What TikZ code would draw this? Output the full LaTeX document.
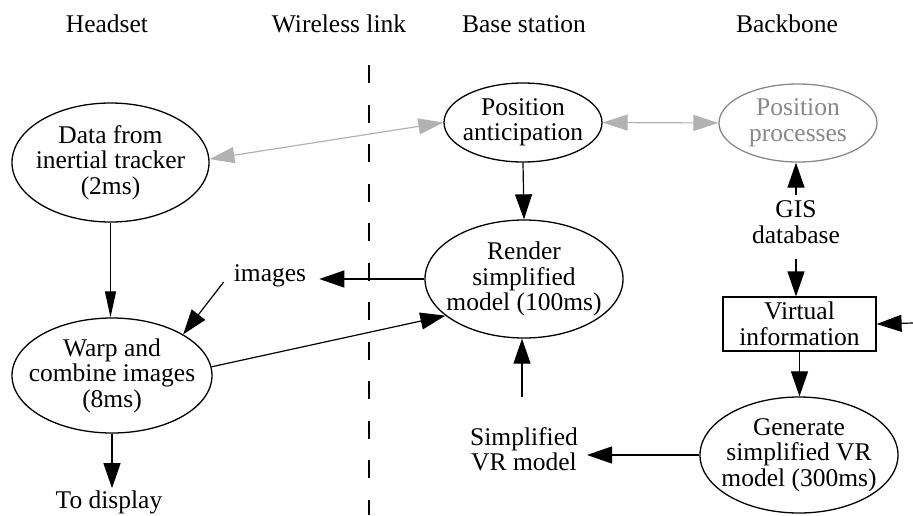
\documentclass[tikz,border=0pt]{standalone}
\usepackage{fontspec}
\setmainfont{Liberation Serif}
\usetikzlibrary{shapes.geometric,arrows.meta,calc}
\definecolor{lgray}{RGB}{178,178,178}
\definecolor{mgray}{RGB}{136,136,136}
\begin{document}
\begin{tikzpicture}[x=1pt,y=-1pt,
  every node/.style={font=\fontsize{25.5}{25.5}\selectfont, inner sep=0pt},
  ell/.style={draw, ellipse, line width=1.3pt},
  txt/.style={align=center},
  blk/.style={line width=1.2pt, -{Triangle[length=25pt,width=17pt]}},
  narrowarr/.style={line width=1.2pt, -{Triangle[length=26pt,width=11pt]}},
  gry/.style={line width=1.2pt, lgray, {Triangle[length=25pt,width=16pt]}-{Triangle[length=25pt,width=16pt]}}]
\useasboundingbox (0,0) rectangle (913,515);

% headers
\node[anchor=base] (h1) at (107,32) {Headset};
\node[anchor=base] (h2) at (339,32) {Wireless link};
\node[anchor=base] (h3) at (524,32) {Base station};
\node[anchor=base] (h4) at (787,32) {Backbone};

% dashed separator
\coordinate (dtop) at (369,65);
\coordinate (dbot) at (369,515);
\draw[line width=1.2pt, dash pattern=on 18pt off 21.5pt] (dtop) -- (dbot);

% ellipses
\node[ell, minimum width=197pt, minimum height=119pt] (data) at (110.5,162.5) {};
\node[txt] at (data) {Data from\\inertial tracker\\(2ms)};
\node[ell, minimum width=158pt, minimum height=79pt] (posant) at (523,122.5) {};
\node[txt] at (posant) {Position\\anticipation};
\node[ell, draw=mgray, minimum width=158pt, minimum height=78pt] (posproc) at (798,123) {};
\node[txt, text=mgray] at (posproc) {Position\\processes};
\node[ell, minimum width=198pt, minimum height=118pt] (render) at (524,279) {};
\node[txt] at (render) {Render\\simplified\\model (100ms)};
\node[ell, minimum width=200pt, minimum height=115pt] (warp) at (112,375.5) {};
\node[txt] at (warp) {Warp and\\combine images\\(8ms)};
\node[ell, minimum width=198pt, minimum height=116pt] (gen) at (799,455) {};
\node[txt] at (gen) {Generate\\simplified VR\\model (300ms)};
\node[draw, line width=1.2pt, minimum width=153pt, minimum height=54pt] (vinfo) at (799.5,324) {};
\node[txt] at (vinfo) {Virtual\\information};

% plain text nodes
\node[txt] (gis) at (796,222) {GIS\\database};
\node (images) at (270,276) {images};
\node[txt] (svr) at (524,449) {Simplified\\VR model};
\node (disp) at (109,502) {To display};

% connectors
\draw[gry] (data.2) -- (posant.west);
\draw[gry] (posant.east) -- (posproc.west);
\draw[blk] (posant.south) -- (render.north);
\draw[blk] ([yshift=5pt]gis.north) -- (gis.north |- posproc.south);
\draw[blk] ([yshift=-15pt]gis.south) -- (gis.south |- vinfo.north);
\draw[blk] (vinfo.south) -- (vinfo.south |- gen.north);
\coordinate (rin) at (913,323);
\draw[blk] (rin) -- (vinfo.east);
\draw[blk] (gen.west) -- ($(svr.east |- gen.west)+(9,0)$);
\coordinate (svrtop) at (522,397);
\draw[blk] (svrtop) -- (svrtop |- render.south);
\draw[blk] (render.west) -- ($(images.east |- render.west)+(13,0)$);
\draw[blk] ($(images.west)+(-10,6)$) -- (warp.north east);
\draw[blk] (warp.5) -- (render.205);
\draw[narrowarr] (data.south) -- (data.south |- warp.north);
\draw[blk] (warp.south) -- ($(warp.south |- disp.north)+(0,-2)$);
\end{tikzpicture}
\end{document}
